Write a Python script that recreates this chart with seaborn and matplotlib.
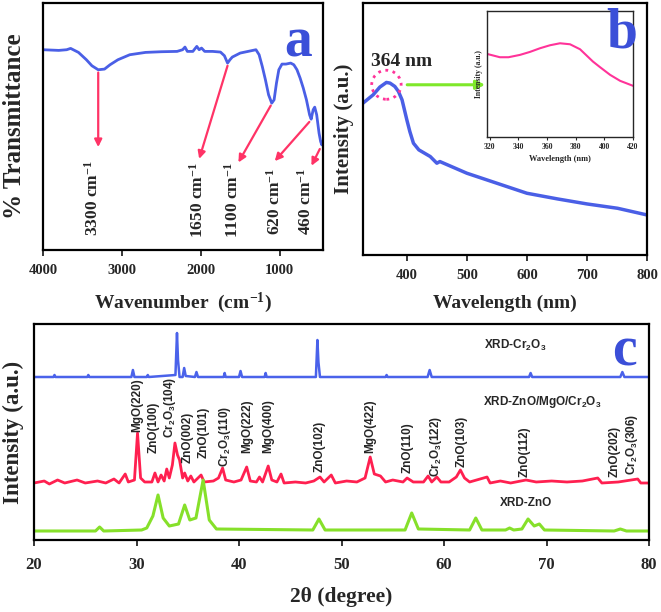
import numpy as np
import pandas as pd
import matplotlib
matplotlib.use("Agg")
import matplotlib.pyplot as plt
from matplotlib.patches import Ellipse
import seaborn as sns

sns.set_style("ticks")
plt.rcParams["font.family"] = ["Liberation Serif", "DejaVu Serif"]
plt.rcParams["font.weight"] = "bold"
plt.rcParams["mathtext.default"] = "regular"
plt.rcParams["axes.linewidth"] = 1.6

# ---------------- data ----------------
# (a) FTIR
ftir_wn = [4000, 3800, 3700, 3650, 3550, 3450, 3380, 3300, 3220, 3150, 3050, 2900, 2700, 2500,
           2300, 2230, 2200, 2170, 2100, 2050, 2020, 1990, 1950, 1850, 1750, 1700, 1660, 1630,
           1600, 1500, 1400, 1300, 1260, 1220, 1180, 1140, 1100, 1070, 1040, 1010, 970, 920,
           860, 820, 780, 740, 700, 660, 620, 600, 575, 555, 530, 500, 480, 465, 452]
ftir_t = [600, 598, 600, 604, 592, 570, 552, 540, 542, 555, 570, 585, 592, 594,
          595, 600, 608, 595, 595, 610, 600, 605, 595, 595, 593, 582, 560, 570,
          578, 590, 595, 600, 585, 550, 510, 465, 440, 450, 500, 540, 557, 557,
          560, 555, 540, 515, 485, 450, 405, 392, 420, 428, 405, 350, 325, 315, 325]
ftir_peaks = ["3300", "1650", "1100", "620", "460"]
ftir_arrow_start = [(3300, 540), (1650, 560), (1095, 440), (600, 390), (475, 310)]
ftir_arrow_end = [(3300, 300), (2030, 265), (1540, 255), (1085, 260), (612, 245)]
ftir_text_pos = [(3367, 270), (2040, 262), (1590, 262), (1063, 247), (675, 247)]

# (b) UV-Vis
uv_wl = [327, 344, 355, 366, 372, 380, 386, 392, 400, 405, 411, 420, 439, 450, 455,
         500, 550, 600, 651, 700, 751, 800]
uv_int = [455, 480, 503, 517, 515, 505, 490, 465, 405, 370, 335, 315, 295, 275, 280,
          245, 215, 185, 168, 153, 140, 120]
inset_wl = [318, 327, 333, 341, 348, 355, 362, 369, 376, 383, 392, 397, 404, 411, 420]
inset_int = [250, 240, 240, 247, 256, 267, 276, 282, 279, 264, 227, 210, 187, 169, 154]

# (c) XRD
cr_x = [20, 21.9, 22.0, 22.1, 24.5, 25.2, 25.3, 25.4, 27.0, 29.5, 29.65, 29.8, 31.0, 31.1, 31.2,
        33.8, 33.95, 34.05, 34.2, 34.5, 34.65, 34.8, 35.7, 35.85, 36.0, 38.5, 38.6, 38.7,
        40.0, 40.15, 40.3, 42.5, 42.6, 42.7, 44.3, 47.5, 47.65, 47.75, 47.9, 50.0, 54.3, 54.4,
        54.5, 58.4, 58.6, 58.8, 63.5, 68.3, 68.45, 68.6, 72.0, 77.2, 77.4, 77.6, 80]
cr_y = [163, 163, 165, 163, 163, 163, 165, 163, 163, 163, 170, 163, 163, 165, 163,
        165, 207, 180, 163, 163, 172, 164, 163, 168, 163, 163, 167, 163,
        163, 169, 163, 163, 167, 163, 163, 163, 200, 178, 163, 163, 163, 165,
        163, 163, 170, 163, 163, 163, 167, 163, 163, 163, 168, 163, 163]

mix_x = [20, 21, 21.5, 22.3, 23, 24.2, 25, 26.2, 27, 27.8, 28.3, 28.9, 29.2, 29.8, 30.1, 30.4,
         30.8, 31.5, 31.8, 32.1, 32.4, 32.7, 32.95, 33.2, 33.5, 33.75, 34.0, 34.2, 34.5, 34.7,
         35.0, 35.3, 35.6, 36.3, 36.6, 37.5, 38.0, 38.4, 38.7, 39.5, 40.2, 40.75, 41.1, 41.7,
         42.0, 42.3, 42.85, 43.2, 43.7, 44.1, 44.4, 45.5, 46.5, 47.3, 47.9, 48.3, 49.0, 49.4,
         50.5, 51.5, 52.3, 52.8, 53.2, 53.8, 54.3, 55.0, 56.0, 56.4, 57.0, 58.0, 58.45, 58.8,
         59.3, 59.7, 60.5, 61.2, 61.6, 62.0, 62.5, 64.2, 64.5, 65.5, 66.5, 68.0, 69.0, 70.5,
         72, 73.5, 75.0, 75.4, 77, 78.9, 79.2, 80]
mix_y = [57, 59, 56, 60, 57, 60, 57, 59, 57, 61, 57, 66, 58, 60, 107, 62,
         58, 58, 67, 58, 65, 59, 71, 62, 75, 97, 85, 80, 62, 67,
         59, 64, 58, 65, 58, 59, 62, 72, 60, 58, 60, 73, 59, 58,
         63, 58, 74, 60, 58, 66, 57, 58, 57, 59, 63, 58, 65, 57,
         59, 58, 62, 83, 66, 64, 58, 60, 58, 62, 58, 58, 64, 58,
         63, 58, 58, 63, 70, 62, 58, 63, 57, 59, 57, 60, 58, 59,
         58, 59, 62, 57, 58, 61, 57, 57]

zno_x = [20, 26.0, 26.4, 26.8, 30.5, 31.0, 31.6, 32.1, 32.6, 33.2, 34.1, 34.7, 35.2, 35.8, 36.5,
         37.1, 37.8, 47.2, 47.8, 48.4, 56.2, 56.85, 57.5, 62.5, 63.1, 63.7, 66.0, 66.4, 66.8,
         67.6, 68.2, 68.8, 69.3, 69.8, 76.6, 77.2, 77.8, 80]
zno_y = [9, 9, 13, 9, 10, 12, 24, 45, 22, 14, 16, 35, 20, 22, 60,
         20, 11, 10, 21, 10, 10, 27, 11, 10, 22, 10, 10, 12, 10,
         11, 21, 14, 16, 10, 9, 11, 9, 9]

hkl_labels = ["MgO(220)", "ZnO(100)", "Cr$_2$O$_3$(104)", "ZnO(002)", "ZnO(101)",
              "Cr$_2$O$_3$(110)", "MgO(222)", "MgO(400)", "ZnO(102)", "MgO(422)",
              "ZnO(110)", "Cr$_2$O$_3$(122)", "ZnO(103)", "ZnO(112)", "ZnO(202)",
              "Cr$_2$O$_3$(306)"]
hkl_x = [30.08, 31.7, 33.3, 34.96, 36.5, 38.6, 40.8, 42.86, 47.9, 52.85,
         56.5, 59.2, 61.7, 67.9, 76.6, 78.3]
hkl_y = [108, 87, 102, 77, 82, 73, 87, 87, 68, 87, 67, 63, 73, 63, 63, 65]

series_names = ["XRD-Cr$_2$O$_3$", "XRD-ZnO/MgO/Cr$_2$O$_3$", "XRD-ZnO"]

# ---------------- figure ----------------
W, H = 661, 612
fig = plt.figure(figsize=(W / 100, H / 100), dpi=100)

def box(l, t, r, b):
    return [l / W, 1 - b / H, (r - l) / W, (b - t) / H]

BLUE = "#4a5fe6"
LETTER = "#3b4fd8"
RED_ARROW = "#ff3366"
SANS = ["Liberation Sans", "DejaVu Sans"]

# ---- panel a ----
ax_a = fig.add_axes(box(43, 3, 323, 250))
sns.lineplot(x=ftir_wn, y=ftir_t, ax=ax_a, color=BLUE, lw=2, sort=False, estimator=None)
ax_a.set_xlim(4000, 450)
ax_a.set_ylim(0, 740)
ax_a.set_xticks([4000, 3000, 2000, 1000])
ax_a.set_yticks([])
ax_a.tick_params(axis="x", direction="out", length=4, width=1.3, labelsize=10.5, pad=6)
for s, e in zip(ftir_arrow_start, ftir_arrow_end):
    ax_a.annotate("", xy=e, xytext=s,
                  arrowprops=dict(arrowstyle="-|>", color=RED_ARROW, lw=1.6, mutation_scale=11))
for lab, (x, y) in zip(ftir_peaks, ftir_text_pos):
    ax_a.text(x, y, lab + " cm$^{-1}$", rotation=90, ha="center", va="top",
              fontsize=12.5, fontweight="bold")
ax_a.text(0.91, 0.84, "a", transform=ax_a.transAxes, color=LETTER, fontsize=40,
          fontweight="bold", ha="center", va="center")
ax_a.set_xlabel("Wavenumber  (cm$^{-1}$)", fontsize=14, fontweight="bold")
ax_a.xaxis.set_label_coords(0.5, (250 - 303) / 247)
ax_a.xaxis.label.set_va("center")
ax_a.set_ylabel("% Transmittance", fontsize=18, fontweight="bold")
ax_a.yaxis.set_label_coords((15 - 43) / 280, 0.5)
ax_a.yaxis.label.set_va("center")

# ---- panel b ----
ax_b = fig.add_axes(box(363, 3, 647, 255))
sns.lineplot(x=uv_wl, y=uv_int, ax=ax_b, color=BLUE, lw=2.5, sort=False, estimator=None)
ax_b.set_xlim(327, 800)
ax_b.set_ylim(0, 755)
ax_b.set_xticks([400, 500, 600, 700, 800])
ax_b.set_yticks([])
ax_b.tick_params(axis="x", direction="out", length=4, width=1.3, labelsize=10.5, pad=6)
ax_b.add_patch(Ellipse((366, 510), 49, 87, fill=False, ls=":", lw=2, ec="#ff3399", zorder=5))
ax_b.annotate("", xy=(535, 510), xytext=(396, 510),
              arrowprops=dict(arrowstyle="-|>", color="#7fe82a", lw=2.2, mutation_scale=13))
ax_b.text(391, 580, "364 nm", fontsize=14, fontweight="bold", ha="center", va="center")
ax_b.set_xlabel("Wavelength (nm)", fontsize=14, fontweight="bold")
ax_b.xaxis.set_label_coords(0.5, (255 - 303) / 252)
ax_b.xaxis.label.set_va("center")
ax_b.set_ylabel("Intensity (a.u.)", fontsize=15, fontweight="bold")
ax_b.yaxis.set_label_coords((344 - 363) / 284, 0.5)
ax_b.yaxis.label.set_va("center")

# inset
ax_i = fig.add_axes(box(487, 10.7, 633, 137))
sns.lineplot(x=inset_wl, y=inset_int, ax=ax_i, color="#ff3399", lw=1.5, sort=False, estimator=None)
ax_i.set_xlim(318, 420)
ax_i.set_ylim(0, 380)
ax_i.set_xticks([320, 340, 360, 380, 400, 420])
ax_i.set_yticks([])
for sp in ax_i.spines.values():
    sp.set_linewidth(1.0)
ax_i.tick_params(axis="x", direction="out", length=2, width=0.8, labelsize=5.5, pad=2)
ax_i.set_xlabel("Wavelength (nm)", fontsize=6, fontweight="bold", labelpad=3)
ax_i.set_ylabel("Intensity (a.u.)", fontsize=5.5, fontweight="bold", labelpad=3)
fig.text(622 / W, 1 - 34 / H, "b", color=LETTER, fontsize=40, fontweight="bold",
         ha="center", va="center", zorder=10)

# ---- panel c ----
ax_c = fig.add_axes(box(34, 324, 649, 540))
sns.lineplot(x=cr_x, y=cr_y, ax=ax_c, color="#4a62ea", lw=1.8, sort=False, estimator=None)
sns.lineplot(x=mix_x, y=mix_y, ax=ax_c, color="#ff2050", lw=2.0, sort=False, estimator=None)
sns.lineplot(x=zno_x, y=zno_y, ax=ax_c, color="#86e02a", lw=2.2, sort=False, estimator=None)
ax_c.set_xlim(20, 80)
ax_c.set_ylim(0, 216)
ax_c.set_xticks([20, 30, 40, 50, 60, 70, 80])
ax_c.set_yticks([])
ax_c.tick_params(axis="x", direction="out", length=4, width=1.3, labelsize=12, pad=8)
for lab, x, y in zip(hkl_labels, hkl_x, hkl_y):
    ax_c.text(x, y, lab, rotation=90, ha="center", va="bottom", fontsize=8.5,
              fontweight="bold", family=SANS)
ax_c.text(66.9, 195, series_names[0], ha="center", va="center", fontsize=8.5,
          fontweight="bold", family=SANS)
ax_c.text(63.8, 138, series_names[1], ha="left", va="center", fontsize=8.5,
          fontweight="bold", family=SANS)
ax_c.text(68.0, 37, series_names[2], ha="center", va="center", fontsize=8.5,
          fontweight="bold", family=SANS)
ax_c.text(77.6, 188, "c", color=LETTER, fontsize=40, fontweight="bold", ha="center", va="center")
ax_c.set_xlabel("2θ (degree)", fontsize=15.5, fontweight="bold")
ax_c.xaxis.set_label_coords(0.5, (540 - 597) / 216)
ax_c.xaxis.label.set_va("center")
ax_c.set_ylabel("Intensity (a.u.)", fontsize=16.5, fontweight="bold")
ax_c.yaxis.set_label_coords((13 - 34) / 615, 0.5)
ax_c.yaxis.label.set_va("center")

for ax in (ax_a, ax_b, ax_c):
    for sp in ax.spines.values():
        sp.set_color("black")

fig.savefig("out.png", dpi=100)
